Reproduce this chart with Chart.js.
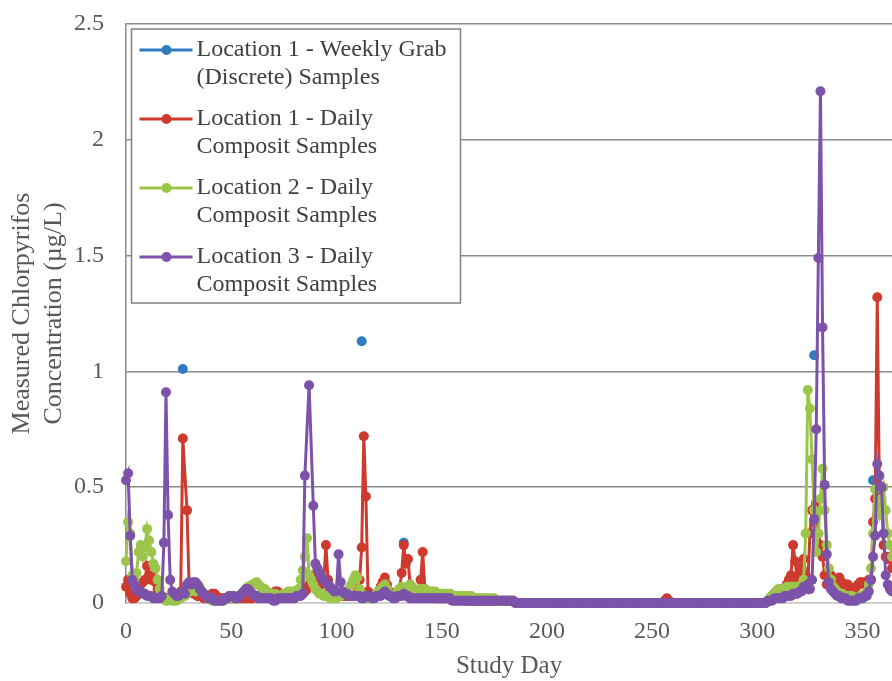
<!DOCTYPE html>
<html>
<head>
<meta charset="utf-8">
<title>Measured Chlorpyrifos Concentration by Study Day</title>
<script src="https://cdn.jsdelivr.net/npm/chart.js@4/dist/chart.umd.min.js"></script>
<style>
  html, body { margin: 0; padding: 0; background: #ffffff; overflow: hidden; }
  #wrap { width: 892px; height: 681px; }
</style>
</head>
<body>
<div id="wrap"><canvas id="chart" width="892" height="681"></canvas></div>
<script>
// ---- Data -------------------------------------------------------------
const seriesNames = [
  ['Location 1 - Weekly Grab', '(Discrete) Samples'],
  ['Location 1 - Daily', 'Composit Samples'],
  ['Location 2 - Daily', 'Composit Samples'],
  ['Location 3 - Daily', 'Composit Samples']
];

const xTicks = [0, 50, 100, 150, 200, 250, 300, 350];
const yTicks = [0, 0.5, 1, 1.5, 2, 2.5];
const yTickLabels = ['0', '0.5', '1', '1.5', '2', '2.5'];
const xTitle = 'Study Day';
const yTitle = ['Measured Chlorpyrifos', 'Concentration (\u00b5g/L)'];

// Location 1 weekly grab samples: sampling day and concentration (µg/L)
const grabDays = [6, 13, 20, 27, 34, 41, 48, 55, 62, 69,
  76, 83, 90, 97, 104, 112, 118, 125, 132, 139,
  146, 153, 160, 167, 174, 181, 188, 195, 202, 209,
  216, 223, 230, 237, 244, 251, 258, 265, 272, 279,
  286, 293, 300, 307, 314, 321, 327, 334, 341, 348,
  355, 362];
const grabValues = [0.05, 0.11, 0.02, 1.01, 0.03, 0.04, 0.02, 0.02, 0.03, 0.04,
  0.03, 0.04, 0.12, 0.06, 0.03, 1.13, 0.03, 0.05, 0.26, 0.05,
  0.03, 0.02, 0.02, 0.01, 0.01, 0.01, 0, 0, 0, 0,
  0, 0, 0, 0, 0, 0, 0, 0, 0, 0,
  0, 0, 0, 0.03, 0.08, 0.15, 1.07, 0.10, 0.08, 0.08,
  0.53, 0.19];

// Daily composite samples, one value per study day starting at day 0 (null = no sample)
const loc1Daily = [
  0.07, 0.10, 0.04, 0.02, 0.02, 0.03, 0.05, 0.08, 0.09, 0.10,
  0.16, 0.12, 0.10, 0.11, 0.09, 0.06, 0.04, 0.03, 0.02, 0.02,
  0.02, 0.02, 0.02, 0.02, 0.02, 0.03, 0.05, 0.71, null, 0.40,
  0.07, 0.05, 0.04, 0.04, 0.03, 0.03, 0.03, 0.02, 0.02, 0.02,
  0.03, 0.04, 0.04, 0.03, 0.02, 0.02, 0.02, 0.02, 0.02, 0.02,
  0.02, 0.02, 0.02, 0.02, 0.02, 0.02, 0.02, 0.02, 0.02, 0.02,
  0.02, 0.03, 0.03, 0.03, 0.03, 0.03, 0.03, 0.04, 0.04, 0.04,
  0.04, 0.05, 0.05, 0.04, 0.04, 0.03, 0.03, 0.03, 0.04, 0.04,
  0.05, 0.05, 0.04, 0.04, 0.04, 0.05, 0.06, 0.08, 0.10, 0.12,
  0.12, 0.10, 0.09, 0.08, 0.10, 0.25, 0.10, 0.06, 0.04, 0.04,
  0.03, 0.03, 0.03, 0.03, 0.03, 0.03, 0.03, 0.03, 0.04, 0.05,
  0.06, 0.10, 0.24, 0.72, 0.46, 0.05, 0.04, 0.03, 0.03, 0.04,
  0.05, 0.07, 0.09, 0.11, 0.08, 0.05, 0.04, 0.04, 0.04, 0.05,
  0.06, 0.13, 0.25, 0.17, 0.19, 0.08, 0.05, 0.04, 0.04, 0.05,
  0.10, 0.22, 0.06, 0.04, 0.03, 0.03, 0.03, 0.02, 0.02, 0.02,
  0.02, 0.02, 0.02, 0.02, 0.02, 0.02, 0.02, 0.02, 0.02, 0.02,
  0.02, 0.02, 0.01, 0.01, 0.01, 0.01, 0.01, 0.01, 0.01, 0.01,
  0.01, 0.01, 0.01, 0.01, 0.01, 0.01, 0.01, 0.01, 0.01, 0.01,
  0.01, 0.01, 0.01, 0.01, 0.01, 0, 0, 0, 0, 0,
  0, 0, 0, 0, 0, 0, 0, 0, 0, 0,
  0, 0, 0, 0, 0, 0, 0, 0, 0, 0,
  0, 0, 0, 0, 0, 0, 0, 0, 0, 0,
  0, 0, 0, 0, 0, 0, 0, 0, 0, 0,
  0, 0, 0, 0, 0, 0, 0, 0, 0, 0,
  0, 0, 0, 0, 0, 0, 0, 0, 0, 0,
  0, 0, 0, 0, 0, 0, 0.01, 0.02, 0.01, 0,
  0, 0, 0, 0, 0, 0, 0, 0, 0, 0,
  0, 0, 0, 0, 0, 0, 0, 0, 0, 0,
  0, 0, 0, 0, 0, 0, 0, 0, 0, 0,
  0, 0, 0, 0, 0, 0, 0, 0, 0, 0,
  0, 0, 0, 0, 0, 0.01, 0.02, 0.03, 0.04, 0.05,
  0.05, 0.05, 0.06, 0.06, 0.08, 0.10, 0.12, 0.25, 0.18, 0.10,
  0.12, 0.15, 0.19, 0.12, 0.08, 0.30, 0.40, 0.35, 0.43, 0.30,
  0.25, 0.20, 0.12, 0.08, 0.10, 0.12, 0.10, 0.09, 0.10, 0.11,
  0.09, 0.08, 0.08, 0.08, 0.06, 0.05, 0.06, 0.07, 0.08, 0.09,
  0.09, 0.08, 0.09, 0.10, 0.10, 0.35, 0.45, 1.32, 0.48, 0.50,
  0.25, 0.20, 0.19, 0.20, 0.15
];

const loc2Daily = [
  0.18, 0.35, 0.30, 0.12, 0.10, 0.13, 0.22, 0.25, 0.20, 0.24,
  0.32, 0.27, 0.22, 0.17, 0.15, 0.10, 0.06, 0.03, 0.02, 0.01,
  0.01, 0.02, 0.01, 0.01, 0.01, 0.02, 0.02, 0.03, 0.03, 0.04,
  0.05, 0.06, 0.06, 0.05, 0.06, 0.07, 0.05, 0.04, 0.03, 0.02,
  0.02, 0.01, 0.01, 0.01, 0.01, 0.01, 0.01, 0.02, 0.02, 0.02,
  0.02, 0.02, 0.02, 0.03, 0.03, 0.04, 0.05, 0.06, 0.07, 0.07,
  0.08, 0.08, 0.09, 0.08, 0.07, 0.06, 0.06, 0.05, 0.04, 0.04,
  0.04, 0.04, 0.03, 0.03, 0.03, 0.04, 0.04, 0.05, 0.05, 0.04,
  0.05, 0.05, 0.06, 0.10, 0.14, 0.20, 0.28, 0.12, 0.10, 0.08,
  0.06, 0.05, 0.04, 0.04, 0.03, 0.03, 0.03, 0.02, 0.02, 0.02,
  0.02, 0.03, 0.03, 0.04, 0.04, 0.05, 0.06, 0.08, 0.10, 0.12,
  0.11, 0.06, 0.04, 0.03, 0.03, 0.02, 0.02, 0.02, 0.03, 0.04,
  0.05, 0.06, 0.07, 0.08, 0.06, 0.04, 0.03, 0.03, 0.04, 0.05,
  0.06, 0.07, 0.06, 0.06, 0.07, 0.08, 0.07, 0.06, 0.05, 0.05,
  0.06, 0.06, 0.06, 0.05, 0.05, 0.05, 0.05, 0.05, 0.04, 0.04,
  0.04, 0.04, 0.04, 0.04, 0.04, 0.03, 0.03, 0.03, 0.03, 0.03,
  0.03, 0.03, 0.03, 0.03, 0.03, 0.02, 0.02, 0.02, 0.02, 0.02,
  0.02, 0.02, 0.02, 0.02, 0.02, 0.02, 0.01, 0.01, 0.01, 0.01,
  0.01, 0.01, 0.01, 0.01, 0.01, 0, 0, 0, 0, 0,
  0, 0, 0, 0, 0, 0, 0, 0, 0, 0,
  0, 0, 0, 0, 0, 0, 0, 0, 0, 0,
  0, 0, 0, 0, 0, 0, 0, 0, 0, 0,
  0, 0, 0, 0, 0, 0, 0, 0, 0, 0,
  0, 0, 0, 0, 0, 0, 0, 0, 0, 0,
  0, 0, 0, 0, 0, 0, 0, 0, 0, 0,
  0, 0, 0, 0, 0, 0, 0, 0, 0, 0,
  0, 0, 0, 0, 0, 0, 0, 0, 0, 0,
  0, 0, 0, 0, 0, 0, 0, 0, 0, 0,
  0, 0, 0, 0, 0, 0, 0, 0, 0, 0,
  0, 0, 0, 0, 0, 0, 0, 0, 0, 0,
  0, 0, 0, 0, 0, 0.01, 0.02, 0.03, 0.04, 0.05,
  0.06, 0.06, 0.06, 0.06, 0.07, 0.07, 0.07, 0.07, 0.07, 0.07,
  0.07, 0.08, 0.10, 0.30, 0.92, 0.84, 0.62, 0.40, 0.22, 0.30,
  0.45, 0.58, 0.40, 0.25, 0.15, 0.10, 0.07, 0.06, 0.05, 0.04,
  0.04, 0.03, 0.03, 0.03, 0.03, 0.03, 0.02, 0.02, 0.02, 0.03,
  0.03, 0.04, 0.05, 0.08, 0.15, 0.30, 0.49, 0.42, 0.38, 0.45,
  0.50, 0.40, 0.30, 0.25, 0.20
];

const loc3Daily = [
  0.53, 0.56, 0.29, 0.10, 0.08, 0.06, 0.05, 0.05, 0.04, 0.04,
  0.03, 0.03, 0.03, 0.02, 0.02, 0.02, 0.02, 0.03, 0.26, 0.91,
  0.38, 0.10, 0.05, 0.04, 0.03, 0.03, 0.04, 0.05, 0.04, 0.08,
  0.09, 0.08, 0.09, 0.09, 0.08, 0.06, 0.05, 0.04, 0.03, 0.02,
  0.02, 0.02, 0.01, 0.01, 0.01, 0.01, 0.01, 0.02, 0.02, 0.03,
  0.03, 0.03, 0.02, 0.02, 0.03, 0.04, 0.05, 0.06, 0.06, 0.05,
  0.04, 0.03, 0.03, 0.02, 0.02, 0.02, 0.02, 0.02, 0.02, 0.02,
  0.01, 0.01, 0.02, 0.02, 0.02, 0.02, 0.02, 0.02, 0.02, 0.02,
  0.02, 0.03, 0.03, 0.03, 0.04, 0.55, null, 0.94, null, 0.42,
  0.17, 0.15, 0.13, 0.11, 0.10, 0.09, 0.08, 0.07, 0.06, 0.05,
  0.05, 0.21, 0.09, 0.05, 0.04, 0.04, 0.03, 0.03, 0.03, 0.03,
  0.03, 0.03, 0.02, 0.02, 0.03, 0.03, 0.03, 0.02, 0.02, 0.03,
  0.03, 0.03, 0.04, 0.05, 0.04, 0.03, 0.03, 0.02, 0.02, 0.03,
  0.03, 0.03, 0.04, 0.03, 0.03, 0.02, 0.02, 0.02, 0.02, 0.02,
  0.02, 0.02, 0.02, 0.02, 0.02, 0.02, 0.02, 0.02, 0.02, 0.02,
  0.02, 0.02, 0.02, 0.02, 0.02, 0.01, 0.01, 0.01, 0.01, 0.01,
  0.01, 0.01, 0.01, 0.01, 0.01, 0.01, 0.01, 0.01, 0.01, 0.01,
  0.01, 0.01, 0.01, 0.01, 0.01, 0.01, 0.01, 0.01, 0.01, 0.01,
  0.01, 0.01, 0.01, 0.01, 0.01, 0, 0, 0, 0, 0,
  0, 0, 0, 0, 0, 0, 0, 0, 0, 0,
  0, 0, 0, 0, 0, 0, 0, 0, 0, 0,
  0, 0, 0, 0, 0, 0, 0, 0, 0, 0,
  0, 0, 0, 0, 0, 0, 0, 0, 0, 0,
  0, 0, 0, 0, 0, 0, 0, 0, 0, 0,
  0, 0, 0, 0, 0, 0, 0, 0, 0, 0,
  0, 0, 0, 0, 0, 0, 0, 0, 0, 0,
  0, 0, 0, 0, 0, 0, 0, 0, 0, 0,
  0, 0, 0, 0, 0, 0, 0, 0, 0, 0,
  0, 0, 0, 0, 0, 0, 0, 0, 0, 0,
  0, 0, 0, 0, 0, 0, 0, 0, 0, 0,
  0, 0, 0, 0, 0, 0.01, 0.01, 0.01, 0.02, 0.02,
  0.02, 0.02, 0.02, 0.03, 0.03, 0.03, 0.03, 0.04, 0.04, 0.04,
  0.05, 0.05, 0.07, 0.06, 0.08, 0.06, 0.10, 0.36, 0.75, 1.49,
  2.21, 1.19, 0.51, 0.21, 0.09, 0.06, 0.05, 0.04, 0.03, 0.03,
  0.02, 0.02, 0.02, 0.01, 0.01, 0.01, 0.01, 0.01, 0.02, 0.02,
  0.02, 0.03, 0.03, 0.05, 0.10, 0.20, 0.29, 0.60, 0.55, 0.50,
  0.30, 0.12, 0.08, 0.06, 0.05
];

// ---- Appearance -------------------------------------------------------
const COLORS = ['#2f7bbf', '#cf3a2e', '#9cc64b', '#7c52aa'];
const SERIF = "'Liberation Serif', 'Times New Roman', serif";
const AXIS_TEXT = '#595959';

function dailyPoints(values) {
  return values.map((v, day) => ({ x: day, y: v }));
}
function grabPoints(days, values) {
  return days.map((d, i) => ({ x: d, y: values[i] }));
}

function lineStyle(color, order) {
  return {
    borderColor: color,
    backgroundColor: color,
    pointBackgroundColor: color,
    pointBorderColor: color,
    pointBorderWidth: 0,
    pointRadius: 5,
    pointHoverRadius: 5,
    borderWidth: 3,
    tension: 0,
    spanGaps: true,
    clip: false,
    order: order
  };
}

// Boxed legend drawn inside the plot, top-left corner
const boxedLegend = {
  id: 'boxedLegend',
  afterDraw(chart) {
    const { ctx, chartArea } = chart;
    const left = chartArea.left + 5.5;
    const top = chartArea.top + 5;
    const width = 329;
    const height = 274;
    const itemGap = 69;
    const lineGap = 28;
    ctx.save();
    ctx.fillStyle = '#ffffff';
    ctx.fillRect(left, top, width, height);
    ctx.strokeStyle = '#808080';
    ctx.lineWidth = 1.5;
    ctx.strokeRect(left, top, width, height);

    ctx.font = '24px ' + SERIF;
    ctx.textBaseline = 'middle';
    ctx.textAlign = 'left';
    seriesNames.forEach((lines, i) => {
      const y = top + 21 + i * itemGap;
      ctx.strokeStyle = COLORS[i];
      ctx.lineWidth = 3;
      ctx.beginPath();
      ctx.moveTo(left + 8, y);
      ctx.lineTo(left + 61, y);
      ctx.stroke();
      ctx.fillStyle = COLORS[i];
      ctx.beginPath();
      ctx.arc(left + 35, y, 5, 0, Math.PI * 2);
      ctx.fill();
      ctx.fillStyle = '#404040';
      lines.forEach((t, k) => ctx.fillText(t, left + 65, y + k * lineGap));
    });
    ctx.restore();
  }
};

new Chart(document.getElementById('chart'), {
  type: 'line',
  data: {
    datasets: [
      Object.assign({ label: seriesNames[0].join(' '), data: grabPoints(grabDays, grabValues), showLine: false }, lineStyle(COLORS[0], 4)),
      Object.assign({ label: seriesNames[1].join(' '), data: dailyPoints(loc1Daily) }, lineStyle(COLORS[1], 3)),
      Object.assign({ label: seriesNames[2].join(' '), data: dailyPoints(loc2Daily) }, lineStyle(COLORS[2], 2)),
      Object.assign({ label: seriesNames[3].join(' '), data: dailyPoints(loc3Daily) }, lineStyle(COLORS[3], 1))
    ]
  },
  options: {
    responsive: false,
    animation: false,
    events: [],
    layout: { autoPadding: false, padding: { top: 24, left: 0, right: 0, bottom: 0 } },
    plugins: {
      legend: { display: false },
      tooltip: { enabled: false }
    },
    scales: {
      x: {
        type: 'linear',
        min: 0,
        max: 364,
        afterFit: s => { s.height = 78; s.paddingLeft = 0; s.paddingRight = 0; },
        afterBuildTicks: s => { s.ticks = xTicks.map(v => ({ value: v })); },
        ticks: {
          font: { family: SERIF, size: 24 },
          color: AXIS_TEXT,
          padding: 14,
          maxRotation: 0,
          autoSkip: false,
          callback: v => String(v)
        },
        grid: { display: false, drawTicks: false },
        border: { color: '#c8c8c8', width: 1.5 },
        title: {
          display: true,
          text: xTitle,
          font: { family: SERIF, size: 25 },
          color: AXIS_TEXT,
          padding: { top: 0, bottom: 0 }
        }
      },
      y: {
        min: 0,
        max: 2.5,
        afterFit: s => { s.width = 126; s.paddingTop = 0; s.paddingBottom = 0; },
        afterBuildTicks: s => { s.ticks = yTicks.map(v => ({ value: v })); },
        ticks: {
          font: { family: SERIF, size: 24 },
          color: AXIS_TEXT,
          padding: 22,
          callback: (v, i) => yTickLabels[i]
        },
        grid: {
          drawTicks: false,
          color: c => (c.tick && c.tick.value === 0 ? '#c8c8c8' : '#8a8a8a'),
          lineWidth: 1.5
        },
        border: { color: '#8a8a8a', width: 1.5 },
        title: {
          display: true,
          text: yTitle,
          font: { family: SERIF, size: 26 },
          color: AXIS_TEXT,
          padding: { top: 7, bottom: 0 }
        }
      }
    }
  },
  plugins: [boxedLegend]
});
</script>
</body>
</html>
